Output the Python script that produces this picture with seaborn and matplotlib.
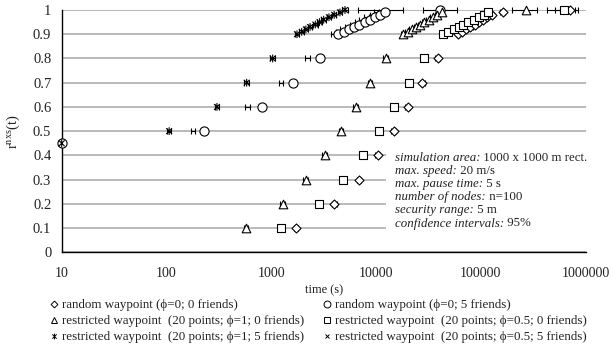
import numpy as np
import pandas as pd
import matplotlib
matplotlib.use("Agg")
import matplotlib.pyplot as plt
import seaborn as sns
from matplotlib.path import Path
from matplotlib.lines import Line2D
from matplotlib.patches import Rectangle
from matplotlib.text import Annotation
from matplotlib.ticker import FixedLocator, FuncFormatter

# ---------------- data ----------------
r_zero = [0.1, 0.2, 0.3, 0.4, 0.5, 0.6, 0.7, 0.8, 0.9,
          0.91, 0.92, 0.93, 0.94, 0.95, 0.96, 0.97, 0.98, 0.99, 1.0]
r_five = [0.45, 0.5, 0.6, 0.7, 0.8, 0.9,
          0.91, 0.92, 0.93, 0.94, 0.95, 0.96, 0.97, 0.98, 0.99, 1.0]

t_rwp_0 = [1722, 3990, 6871, 10351, 14723, 20045, 27606, 38726, 60814,
           66069, 72444, 79433, 87096, 95499, 104713, 114815, 126765, 161436, 707946]
t_rwp_5 = [10, 228, 820, 1622, 2917, 4355,
           4898, 5495, 6166, 6918, 7762, 8710, 9772, 10965, 12162, 40738]
t_res1_0 = [574, 1285, 2128, 3236, 4624, 6383, 8750, 12359, 18197,
            19953, 21878, 23988, 26303, 28840, 31623, 34674, 38459, 42364, 269153]
t_res05_0 = [1239, 2851, 4797, 7551, 10740, 14825, 20606, 28840, 43752,
             48978, 54954, 61660, 67608, 75858, 85114, 95499, 107152, 117761, 619441]
t_res1_5 = [10, 106, 303, 582, 1030, 1758,
            1950, 2138, 2344, 2630, 2884, 3162, 3548, 3981, 4519, 5047]
t_res05_5 = [10, 180, 596, 1239, 2213, 3908,
             4365, 4786, 5370, 5888, 6607, 7244, 8128, 9120, 10139, 11482]

# 95% confidence interval of the last point (r=1) of each series
ci_last_lo = [512861, 28054, 196789, 424620, 4700, 6761]
ci_last_hi = [851138, 58749, 340408, 794328, 5400, 18197]
ci_rel = 0.05   # relative half width of the other intervals

labels = ["random waypoint (\u03d5=0; 0 friends)",
          "random waypoint (\u03d5=0; 5 friends)",
          "restricted waypoint  (20 points; \u03d5=1; 0 friends)",
          "restricted waypoint  (20 points; \u03d5=0.5; 0 friends)",
          "restricted waypoint  (20 points; \u03d5=1; 5 friends)",
          "restricted waypoint  (20 points; \u03d5=0.5; 5 friends)"]
times = [t_rwp_0, t_rwp_5, t_res1_0, t_res05_0, t_res1_5, t_res05_5]
levels = [r_zero, r_five, r_zero, r_zero, r_five, r_five]

info_keys = ["simulation area:", "max. speed:", "max. pause time:",
             "number of nodes:", "security range:", "confidence intervals:"]
info_vals = ["1000 x 1000 m rect.", "20 m/s", "5 s", "n=100", "5 m", "95%"]

x_ticks = [10, 100, 1000, 10000, 100000, 1000000]
y_ticks = [0, 0.1, 0.2, 0.3, 0.4, 0.5, 0.6, 0.7, 0.8, 0.9, 1]

# ---------------- style ----------------
star = Path([(0, -1), (0, 1), (-0.75, -0.75), (0.75, 0.75), (-0.75, 0.75), (0.75, -0.75)],
            [Path.MOVETO, Path.LINETO, Path.MOVETO, Path.LINETO, Path.MOVETO, Path.LINETO])
markers = ["D", "o", "^", "s", star, "x"]
msizes = [4.6, 6.6, 6.2, 6.0, 5.6, 4.2]

sns.set_theme(style="white")
serif = ["Liberation Serif", "DejaVu Serif"]
plt.rcParams["font.family"] = serif
plt.rcParams["mathtext.fontset"] = "custom"
plt.rcParams["mathtext.rm"] = "Liberation Serif"
plt.rcParams["mathtext.it"] = "Liberation Serif:italic"

W, H = 611, 345
TXT = "#222222"
fig = plt.figure(figsize=(W / 100, H / 100), dpi=100)
ax = fig.add_axes([61.7 / W, 1 - 252.3 / H, 524.0 / W, 242.3 / H])

rows = []
for i, (lab, t, r) in enumerate(zip(labels, times, levels)):
    for tv, rv in zip(t, r):
        rows.append({"series": lab, "t": tv, "r": rv})
df = pd.DataFrame(rows)

for i, lab in enumerate(labels):
    d = df[df.series == lab]
    t = d.t.to_numpy(dtype=float)
    lo = t * ci_rel
    hi = t * ci_rel
    lo[-1] = t[-1] - ci_last_lo[i]
    hi[-1] = ci_last_hi[i] - t[-1]
    ax.errorbar(t, d.r, xerr=[lo, hi], fmt="none", ecolor="black",
                elinewidth=0.8, capsize=2.0, capthick=0.8, zorder=3, clip_on=False)
    filled = i < 4
    sns.scatterplot(data=d, x="t", y="r", ax=ax, marker=markers[i],
                    s=msizes[i] ** 2,
                    facecolor="white" if filled else "none",
                    edgecolor="black", linewidth=0.8, zorder=4,
                    clip_on=False, legend=False)

ax.set_xscale("log")
ax.set_xlim(10, 1000000)
ax.set_ylim(0, 1)
ax.xaxis.set_major_locator(FixedLocator(x_ticks))
ax.xaxis.set_minor_locator(FixedLocator([]))
ax.xaxis.set_major_formatter(FuncFormatter(lambda v, p: "%d" % round(v)))
ax.yaxis.set_major_locator(FixedLocator(y_ticks))
ax.yaxis.set_major_formatter(FuncFormatter(lambda v, p: "%g" % v))
ax.grid(axis="y", color="#b4b4b4", linewidth=1.3, zorder=0)
ax.grid(axis="x", visible=False)
ax.set_axisbelow(True)
for s in ["top", "right"]:
    ax.spines[s].set_visible(False)
for s in ["left", "bottom"]:
    ax.spines[s].set_color("black")
    ax.spines[s].set_linewidth(1.0)
ax.tick_params(axis="both", which="major", direction="out", length=3.5,
               width=0.8, color="black", labelsize=10, labelcolor=TXT, pad=4)
ax.tick_params(axis="y", labelsize=10.5)
ax.tick_params(axis="x", pad=7)
ax.set_xlabel("time (s)", fontsize=9, color=TXT)
ax.xaxis.set_label_coords(0.5, -0.13)
ax.set_ylabel(r"r$^{\mathrm{nxs}}$(t)", fontsize=10.5, color=TXT)
ax.yaxis.set_label_coords(-0.075, 0.5)
ax.set_facecolor("white")

# white box behind the parameter text
fig.patches.append(Rectangle((386 / W, 1 - 242 / H), 225 / W, 96 / H,
                             transform=fig.transFigure, facecolor="white",
                             edgecolor="none", zorder=1))
y0 = 161.0
FS_INFO = 9.3
for k, (key, val) in enumerate(zip(info_keys, info_vals)):
    ty = 1 - (y0 + k * 13.1) / H
    t1 = fig.text(395 / W, ty, key, fontsize=FS_INFO, style="italic",
                  color=TXT, va="baseline", ha="left", zorder=2)
    a = Annotation(" " + val, xy=(1, 0), xycoords=t1, va="bottom", ha="left",
                   fontsize=FS_INFO, color=TXT, annotation_clip=False)
    a.set_zorder(2)
    fig.add_artist(a)

# legend
handles = []
for i, lab in enumerate(labels):
    handles.append(Line2D([], [], linestyle="none", marker=markers[i],
                          markersize=msizes[i] * 0.75,
                          markerfacecolor="white" if i < 4 else "none",
                          markeredgecolor="black", markeredgewidth=0.7, label=lab))
order = [0, 2, 4, 1, 3, 5]
fig.legend([handles[j] for j in order], [labels[j] for j in order],
           loc="upper left", bbox_to_anchor=(50 / W, 1 - 299 / H), ncol=2,
           frameon=False, fontsize=9.4, handlelength=0.6, handletextpad=0.35,
           columnspacing=1.4, labelspacing=0.3, borderpad=0, borderaxespad=0,
           labelcolor=TXT)

fig.savefig("out.png", dpi=100, facecolor="white")
